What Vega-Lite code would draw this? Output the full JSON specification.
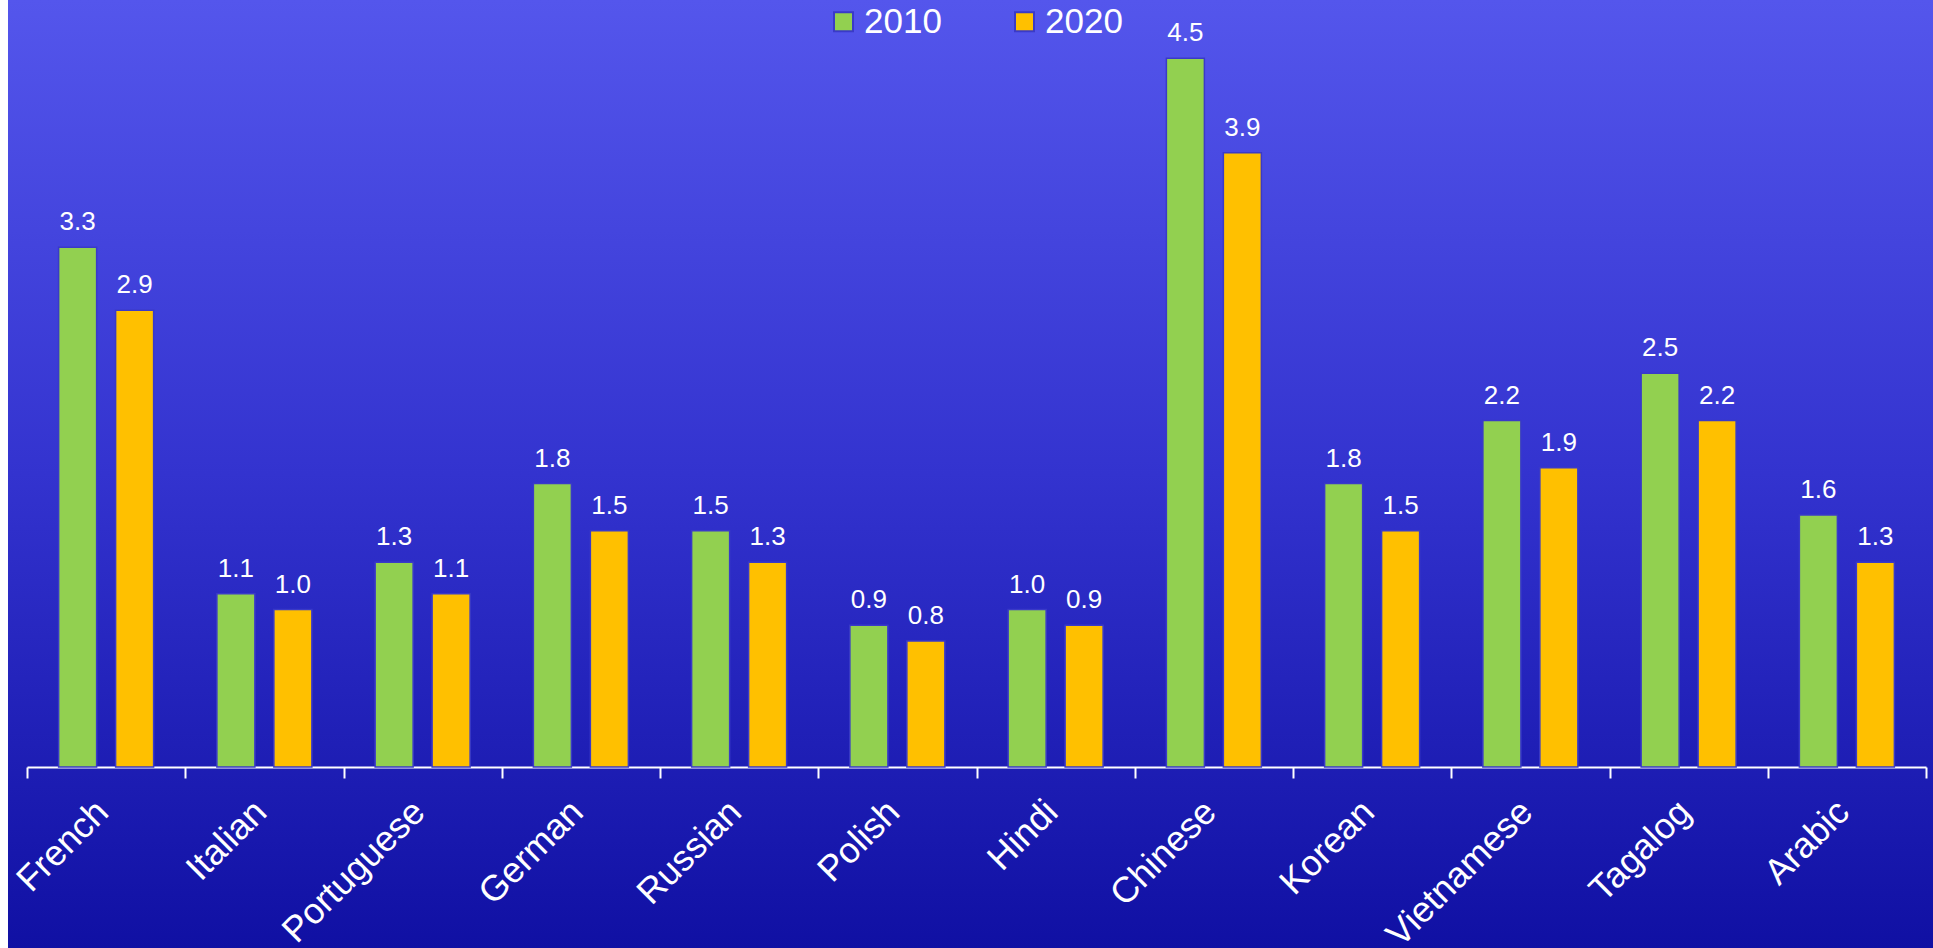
{
  "$schema": "https://vega.github.io/schema/vega-lite/v6.json",
  "width": 1925,
  "height": 948,
  "autosize": "none",
  "padding": {"left": 8, "top": 0, "right": 0, "bottom": 0},
  "background": "white",
  "config": {
    "font": "Liberation Sans",
    "view": {
      "stroke": null,
      "fill": {
        "gradient": "linear", "x1": 0, "y1": 0, "x2": 0, "y2": 1,
        "stops": [
          {"offset": 0, "color": "#5456EC"},
          {"offset": 0.5, "color": "#3333CF"},
          {"offset": 1, "color": "#1010A3"}
        ]
      }
    }
  },
  "data": {
    "values": [
      {"language": "French", "year": "2010", "value": 3.3},
      {"language": "French", "year": "2020", "value": 2.9},
      {"language": "Italian", "year": "2010", "value": 1.1},
      {"language": "Italian", "year": "2020", "value": 1.0},
      {"language": "Portuguese", "year": "2010", "value": 1.3},
      {"language": "Portuguese", "year": "2020", "value": 1.1},
      {"language": "German", "year": "2010", "value": 1.8},
      {"language": "German", "year": "2020", "value": 1.5},
      {"language": "Russian", "year": "2010", "value": 1.5},
      {"language": "Russian", "year": "2020", "value": 1.3},
      {"language": "Polish", "year": "2010", "value": 0.9},
      {"language": "Polish", "year": "2020", "value": 0.8},
      {"language": "Hindi", "year": "2010", "value": 1.0},
      {"language": "Hindi", "year": "2020", "value": 0.9},
      {"language": "Chinese", "year": "2010", "value": 4.5},
      {"language": "Chinese", "year": "2020", "value": 3.9},
      {"language": "Korean", "year": "2010", "value": 1.8},
      {"language": "Korean", "year": "2020", "value": 1.5},
      {"language": "Vietnamese", "year": "2010", "value": 2.2},
      {"language": "Vietnamese", "year": "2020", "value": 1.9},
      {"language": "Tagalog", "year": "2010", "value": 2.5},
      {"language": "Tagalog", "year": "2020", "value": 2.2},
      {"language": "Arabic", "year": "2010", "value": 1.6},
      {"language": "Arabic", "year": "2020", "value": 1.3}
    ]
  },
  "encoding": {
    "x": {
      "field": "language", "type": "nominal", "sort": null,
      "scale": {"range": [19, 1918], "paddingInner": 0, "paddingOuter": 0},
      "axis": {
        "title": null, "orient": "bottom", "offset": -181,
        "labelAngle": -45, "labelFontSize": 36, "labelColor": "white",
        "labelFont": "Liberation Sans", "labelLimit": 500, "labelOverlap": false,
        "labelPadding": 16, "labelOffset": -16,
        "domainColor": "white", "domainWidth": 2,
        "tickColor": "white", "tickWidth": 2, "tickSize": 11, "tickBand": "extent",
        "grid": false
      }
    },
    "xOffset": {
      "field": "year", "type": "nominal",
      "scale": {"paddingInner": 0.333, "paddingOuter": 0.555}
    },
    "y": {
      "field": "value", "type": "quantitative",
      "scale": {"domain": [-1.149, 4.87], "nice": false, "zero": false},
      "axis": null
    }
  },
  "layer": [
    {
      "mark": {"type": "bar", "stroke": "#3a3ac8", "strokeWidth": 1.5},
      "encoding": {
        "y2": {"datum": 0},
        "color": {
          "field": "year", "type": "nominal",
          "scale": {"domain": ["2010", "2020"], "range": ["#92D050", "#FFC000"]},
          "legend": {
            "title": null, "orient": "none", "legendX": 818, "legendY": 4,
            "direction": "horizontal",
            "labelFontSize": 35, "labelColor": "white", "labelFont": "Liberation Sans",
            "symbolType": "square", "symbolSize": 361,
            "symbolStrokeColor": "#3a3ac8", "symbolStrokeWidth": 2,
            "symbolOpacity": 1, "labelOffset": 3, "columnPadding": 65
          }
        }
      }
    },
    {
      "mark": {"type": "text", "dy": -17, "baseline": "alphabetic", "fontSize": 26, "fill": "white", "font": "Liberation Sans"},
      "encoding": {
        "text": {"field": "value", "type": "quantitative", "format": ".1f"}
      }
    }
  ]
}
